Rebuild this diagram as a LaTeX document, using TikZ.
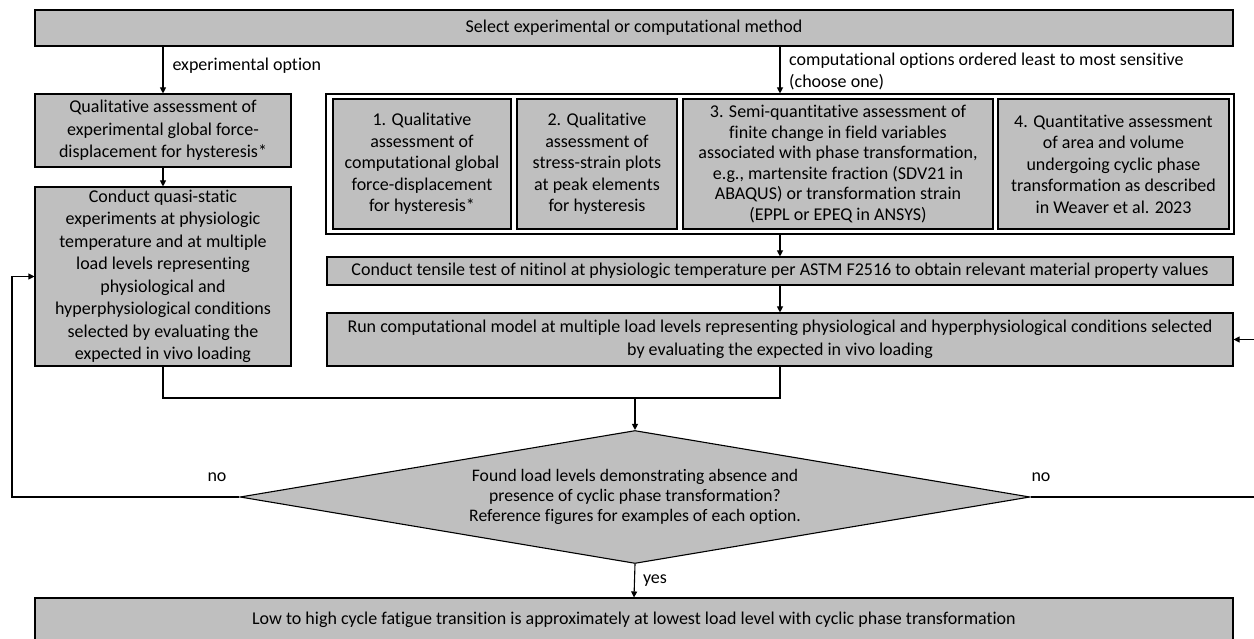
\documentclass[tikz,border=0pt]{standalone}
\usepackage{fontspec}
\setmainfont[Ligatures=NoCommon]{Carlito}
\usetikzlibrary{arrows.meta,shapes.geometric}
\definecolor{boxgray}{HTML}{BFBFBF}
\tikzset{
  box/.style={draw=black, line width=1.1pt, fill=boxgray, align=center, inner sep=0pt, font=\fontsize{18}{22.5}\selectfont},
  obox/.style={box, font=\fontsize{18}{21.5}\selectfont},
  conn/.style={draw=black, line width=1.1pt},
  arr/.style={conn, -{Triangle[length=6pt,width=6pt]}},
  lbl/.style={inner sep=0pt, font=\fontsize{18}{21.5}\selectfont},
}
\begin{document}
\begin{tikzpicture}[x=1pt,y=-1pt]
\useasboundingbox (0,0) rectangle (1254,639);
\clip (0,0) rectangle (1254,639);
\fill[white] (0,0) rectangle (1254,639);

% top
\node[box, minimum width=1198pt, minimum height=36pt] (top) at (634,28) {Select experimental or computational method};

% experimental branch
\node[box, minimum width=256pt, minimum height=73pt] (exp1) at (163,130.5)
  {Qualitative assessment of\\experimental global force-\\displacement for hysteresis*};
\node[box, minimum width=256pt, minimum height=179pt] (exp2) at (163,276.5)
  {Conduct quasi-static\\experiments at physiologic\\temperature and at multiple\\load levels representing\\physiological and\\hyperphysiological conditions\\selected by evaluating the\\expected in vivo loading};

% computational container
\node[draw=black, line width=1.1pt, fill=white, minimum width=908pt, minimum height=140pt, inner sep=0pt] (cont) at (780,164) {};
\node[obox, minimum width=178pt, minimum height=130pt] (c1) at (422,164)
  {1. Qualitative\\assessment of\\computational global\\force-displacement\\for hysteresis*};
\node[obox, minimum width=160pt, minimum height=130pt] (c2) at (597,164)
  {2. Qualitative\\assessment of\\stress-strain plots\\at peak elements\\for hysteresis};
\node[obox, minimum width=310pt, minimum height=130pt, font=\fontsize{18}{20.6}\selectfont] (c3) at (838,164)
  {3. Semi-quantitative assessment of\\finite change in field variables\\associated with phase transformation,\\e.g., martensite fraction (SDV21 in\\ABAQUS) or transformation strain\\(EPPL or EPEQ in ANSYS)};
\node[obox, minimum width=231pt, minimum height=130pt] (c4) at (1113.5,164)
  {4. Quantitative assessment\\of area and volume\\undergoing cyclic phase\\transformation as described\\in Weaver et al. 2023};

\node[box, minimum width=906pt, minimum height=28pt] (tens) at (780,271)
  {Conduct tensile test of nitinol at physiologic temperature per ASTM F2516 to obtain relevant material property values};
\node[box, minimum width=906pt, minimum height=53pt] (run) at (780,339.5)
  {Run computational model at multiple load levels representing physiological and hyperphysiological conditions selected\\by evaluating the expected in vivo loading};

% decision
\node[draw=black, line width=1.1pt, fill=boxgray, shape=diamond, aspect=5.94, inner sep=0pt,
      minimum width=790pt, minimum height=133pt, align=center,
      font=\fontsize{17.6}{20}\selectfont] (dec) at (635,497)
  {Found load levels demonstrating absence and\\presence of cyclic phase transformation?\\Reference figures for examples of each option.};

\node[box, minimum width=1198pt, minimum height=44pt] (fin) at (634,620)
  {Low to high cycle fatigue transition is approximately at lowest load level with cyclic phase transformation};

% coordinates
\coordinate (mL) at (163,398);
\coordinate (mR) at (780,398);
\coordinate (mC) at (635,398);
\coordinate (lp) at (12,497);
\coordinate (rp) at (1275,497);

% connectors
\draw[arr] (top.south -| exp1.north) -- (exp1.north) node[pos=0.4, right=9pt, lbl] {experimental option};
\draw[arr] (top.south -| cont.north) -- (cont.north);
\node[lbl, anchor=north west, align=left] (clbl) at (789,53) {computational options ordered least to most sensitive\\(choose one)};
\draw[arr] (exp1) -- (exp2);
\draw[arr] (cont.south) -- (tens.north);
\draw[arr] (tens) -- (run);
\draw[conn] (exp2.south) -- (mL) -- (mR) -- (run.south);
\draw[arr] (mC) -- (dec.north);
\draw[arr] (dec.west) -- (lp) |- (exp2.west);
\draw[arr] (dec.east) -- (rp) |- (run.east);
\draw[arr] (dec.south) -- (fin.north) node[midway, right=8pt, lbl] {yes};
\node[lbl] (no1) at (217,477) {no};
\node[lbl] (no2) at (1041,477) {no};
\end{tikzpicture}
\end{document}
